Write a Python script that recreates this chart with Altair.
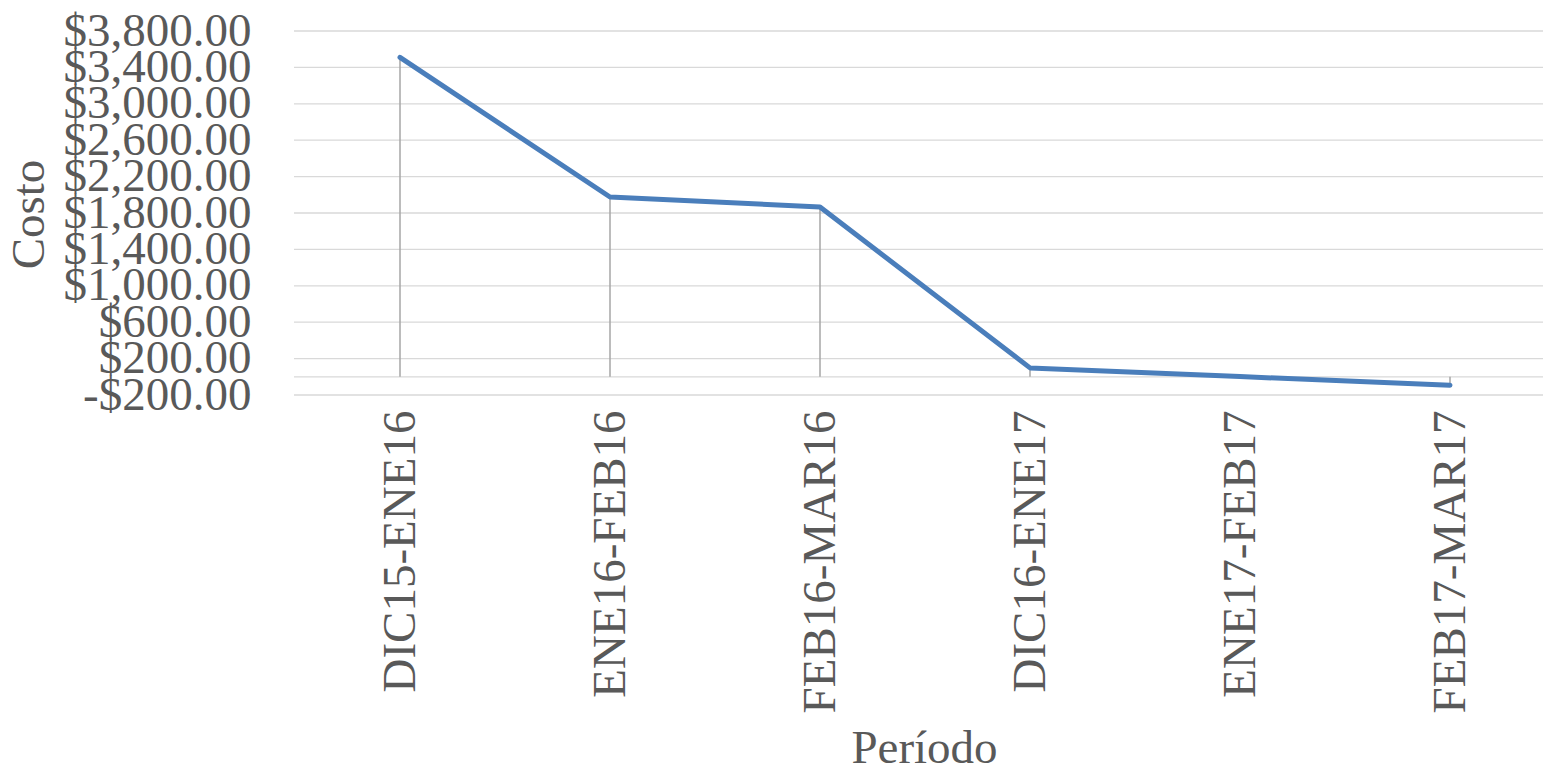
import altair as alt
import pandas as pd

periods = ["DIC15-ENE16", "ENE16-FEB16", "FEB16-MAR16", "DIC16-ENE17", "ENE17-FEB17", "FEB17-MAR17"]
costs = [3510, 1976, 1866, 98, 2, -92]
y_ticks = [-200, 200, 600, 1000, 1400, 1800, 2200, 2600, 3000, 3400, 3800]

df = pd.DataFrame({"Período": periods, "Costo": costs, "base": [0] * len(periods)})
grid_df = pd.DataFrame({"v": y_ticks + [0]})

FONT = "Liberation Serif"
TXT = "#595959"

x_enc = alt.X(
    "Período:N",
    sort=periods,
    scale=alt.Scale(type="point", range=[106, 1156], padding=0),
    axis=alt.Axis(
        title="Período",
        labelAngle=270,
        labelAlign="right",
        labelBaseline="middle",
        labelPadding=15,
        labelFont=FONT,
        labelFontSize=47,
        labelColor=TXT,
        labelLimit=0,
        titleFont=FONT,
        titleFontSize=47,
        titleFontWeight="normal",
        titleColor=TXT,
        titleX=630,
        titleY=367,
        titleAlign="center",
        titleBaseline="alphabetic",
        ticks=False,
        tickSize=0,
        domain=False,
        grid=False,
        labelOverlap=False,
    ),
)

y_scale = alt.Scale(domain=[-200, 3800], nice=False, zero=False)
y_axis = alt.Axis(
    title="Costo",
    values=y_ticks,
    labelExpr="(datum.value < 0 ? '-' : '') + format(abs(datum.value), '$,.2f')",
    labelFont=FONT,
    labelFontSize=47,
    labelColor=TXT,
    labelPadding=43,
    labelLimit=0,
    labelOverlap=False,
    titleFont=FONT,
    titleFontSize=47,
    titleFontWeight="normal",
    titleColor=TXT,
    titleAngle=270,
    titleX=-251,
    titleY=183,
    titleAlign="center",
    titleBaseline="alphabetic",
    ticks=False,
    tickSize=0,
    domain=False,
    grid=False,
)

grid = alt.Chart(grid_df).mark_rule(color="#D9D9D9", strokeWidth=1.3).encode(
    y=alt.Y("v:Q", scale=y_scale, axis=y_axis)
)

base = alt.Chart(df)

drops = base.mark_rule(color="#A6A6A6", strokeWidth=1.5).encode(
    x=x_enc,
    y=alt.Y("Costo:Q", scale=y_scale, axis=y_axis),
    y2="base:Q",
)

line = base.mark_line(
    color="#4A7EBB", strokeWidth=5, strokeCap="round", strokeJoin="round"
).encode(
    x=x_enc,
    y=alt.Y("Costo:Q", scale=y_scale, axis=y_axis),
)

chart = (
    alt.layer(grid, drops, line)
    .properties(
        width=1249,
        height=364,
        padding={"left": 294, "top": 31, "right": 0, "bottom": 370},
        autosize=alt.AutoSizeParams(type="none"),
        background="white",
    )
    .configure_view(strokeWidth=0)
)

chart.save("out.html", embed_options={"renderer": "svg", "actions": False})
